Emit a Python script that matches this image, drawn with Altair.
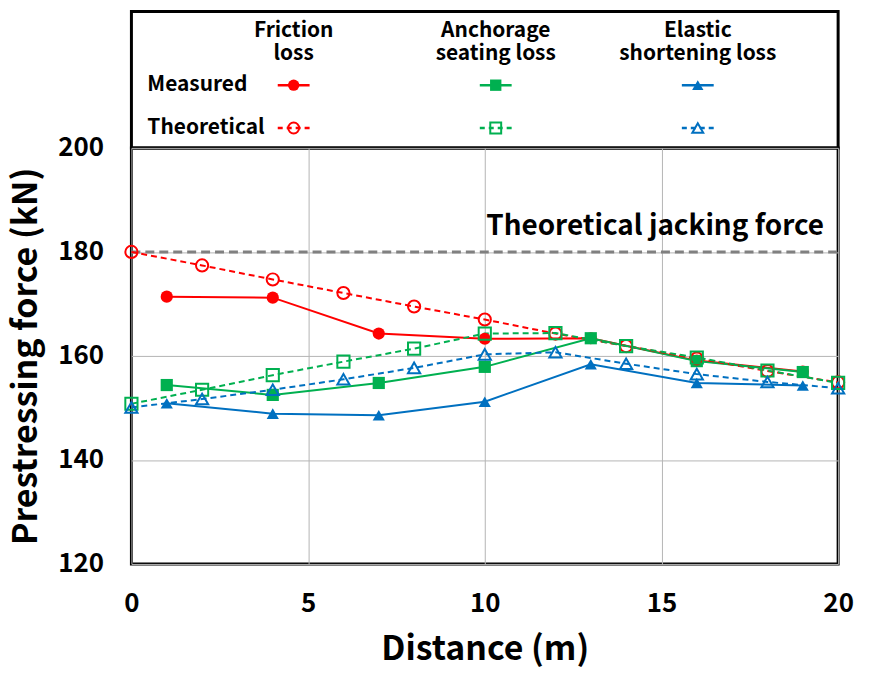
import altair as alt
import pandas as pd

# ---------------- data ----------------
loss_types = ["Friction loss", "Anchorage seating loss", "Elastic shortening loss"]
colors = ["#FF0000", "#00B050", "#0070C0"]
shapes_filled = ["circle", "square", "triangle-up"]

meas_dist = [1, 4, 7, 10, 13, 16, 19]
meas_friction = [171.4, 171.2, 164.3, 163.3, 163.4, 159.1, 157.0]
meas_anchorage = [154.4, 152.5, 154.8, 157.9, 163.4, 159.0, 156.9]
meas_elastic = [150.9, 148.9, 148.6, 151.2, 158.4, 154.8, 154.3]

theo_dist = [0, 2, 4, 6, 8, 10, 12, 14, 16, 18, 20]
theo_friction = [180.0, 177.4, 174.7, 172.1, 169.5, 167.0, 164.3, 161.9, 159.5, 157.1, 154.9]
theo_anchorage = [150.8, 153.5, 156.3, 158.9, 161.4, 164.3, 164.4, 161.9, 159.7, 157.2, 154.8]
theo_elastic = [150.1, 151.7, 153.5, 155.5, 157.7, 160.3, 160.7, 158.5, 156.5, 155.0, 153.8]

jacking_force = 180
jacking_label = "Theoretical jacking force"

x_ticks = [0, 5, 10, 15, 20]
y_ticks = [120, 140, 160, 180, 200]

FONT = "Noto Sans CJK KR"

rows = []
for lt, vals in zip(loss_types, [meas_friction, meas_anchorage, meas_elastic]):
    for d, v in zip(meas_dist, vals):
        rows.append({"loss": lt, "kind": "Measured", "distance": d, "force": v})
for lt, vals in zip(loss_types, [theo_friction, theo_anchorage, theo_elastic]):
    for d, v in zip(theo_dist, vals):
        rows.append({"loss": lt, "kind": "Theoretical", "distance": d, "force": v})
df = pd.DataFrame(rows)

color_scale = alt.Scale(domain=loss_types, range=colors)
shape_scale = alt.Scale(domain=loss_types, range=shapes_filled)
xs = alt.Scale(domain=[0, 20], nice=False, zero=False)
ys = alt.Scale(domain=[120, 200], nice=False, zero=False)

x_enc = alt.X("distance:Q", scale=xs,
              axis=alt.Axis(values=x_ticks, title="Distance (m)", format="d", labelFlush=False))
y_enc = alt.Y("force:Q", scale=ys,
              axis=alt.Axis(values=y_ticks, title="Prestressing force (kN)", format="d", labelFlush=False))

base = alt.Chart(df).encode(
    x=x_enc, y=y_enc,
    color=alt.Color("loss:N", scale=color_scale, legend=None),
    detail="loss:N",
)

lines_m = base.transform_filter(alt.datum.kind == "Measured").mark_line(strokeWidth=2)
lines_t = base.transform_filter(alt.datum.kind == "Theoretical").mark_line(strokeWidth=2, strokeDash=[6, 4])
pts_m = base.transform_filter(alt.datum.kind == "Measured").mark_point(
    filled=True, size=150, opacity=1).encode(shape=alt.Shape("loss:N", scale=shape_scale, legend=None))
pts_t = base.transform_filter(alt.datum.kind == "Theoretical").mark_point(
    filled=False, size=150, strokeWidth=2, opacity=1).encode(shape=alt.Shape("loss:N", scale=shape_scale, legend=None))

jack_df = pd.DataFrame({"force": [jacking_force], "label": [jacking_label], "x0": [0], "x1": [20], "xt": [19.6], "yt": [183.3]})
jack_rule = alt.Chart(jack_df).mark_rule(color="#808080", strokeWidth=3, strokeDash=[9, 5]).encode(
    x=alt.X("x0:Q", scale=xs), x2="x1:Q", y=alt.Y("force:Q", scale=ys))
jack_text = alt.Chart(jack_df).mark_text(align="right", baseline="alphabetic", font=FONT,
                                         fontWeight="bold", fontSize=28, color="black").encode(
    x=alt.X("xt:Q", scale=xs), y=alt.Y("yt:Q", scale=ys), text="label:N")

main = alt.layer(jack_rule, lines_m, lines_t, pts_m, pts_t, jack_text).properties(width=710, height=418)

# ---------------- legend panel ----------------
col_x = [163, 366, 569]
header_lines = ["Friction\nloss", "Anchorage\nseating loss", "Elastic\nshortening loss"]
row_names = ["Measured", "Theoretical"]
row_y = [74, 117]
header_y = 9
row_label_x = 16
seg_half = 16

hdr_df = pd.DataFrame({"x": col_x, "y": [header_y] * 3, "t": header_lines})
rowlab_df = pd.DataFrame({"x": [row_label_x] * 2, "y": row_y, "t": row_names})
sym = []
for lt, cx in zip(loss_types, col_x):
    for k, ry in zip(row_names, row_y):
        sym.append({"loss": lt, "kind": k, "x": cx, "xa": cx - seg_half, "xb": cx + seg_half, "y": ry})
sym_df = pd.DataFrame(sym)

lx = alt.Scale(domain=[0, 710], nice=False, zero=False)
ly = alt.Scale(domain=[137, 0], nice=False, zero=False)
noax = None

hdr_text = alt.Chart(hdr_df).mark_text(font=FONT, fontWeight="bold", fontSize=21, color="black",
                                       baseline="top", lineBreak="\n", lineHeight=23).encode(
    x=alt.X("x:Q", scale=lx, axis=noax), y=alt.Y("y:Q", scale=ly, axis=noax), text="t:N")
row_text = alt.Chart(rowlab_df).mark_text(font=FONT, fontWeight="bold", fontSize=21, color="black",
                                          align="left", baseline="middle").encode(
    x=alt.X("x:Q", scale=lx, axis=noax), y=alt.Y("y:Q", scale=ly, axis=noax), text="t:N")
symbase = alt.Chart(sym_df).encode(
    y=alt.Y("y:Q", scale=ly, axis=noax),
    color=alt.Color("loss:N", scale=color_scale, legend=None))
seg_m = symbase.transform_filter(alt.datum.kind == "Measured").mark_rule(strokeWidth=2.5).encode(
    x=alt.X("xa:Q", scale=lx, axis=noax), x2="xb:Q")
seg_t = symbase.transform_filter(alt.datum.kind == "Theoretical").mark_rule(strokeWidth=2.5, strokeDash=[5, 4]).encode(
    x=alt.X("xa:Q", scale=lx, axis=noax), x2="xb:Q")
sp_m = symbase.transform_filter(alt.datum.kind == "Measured").mark_point(filled=True, size=130, opacity=1).encode(
    x=alt.X("x:Q", scale=lx, axis=noax), shape=alt.Shape("loss:N", scale=shape_scale, legend=None))
sp_t = symbase.transform_filter(alt.datum.kind == "Theoretical").mark_point(filled=False, size=120, strokeWidth=2, opacity=1).encode(
    x=alt.X("x:Q", scale=lx, axis=noax), shape=alt.Shape("loss:N", scale=shape_scale, legend=None))

legend_panel = alt.layer(hdr_text, row_text, seg_m, seg_t, sp_m, sp_t).properties(width=710, height=137)

chart = alt.vconcat(legend_panel, main, spacing=0, bounds="flush").resolve_scale(
    x="independent", y="independent"
).properties(
    padding={"left": 0, "top": 0, "right": 10, "bottom": 0},
).configure_view(
    stroke="black", strokeWidth=3
).configure_axis(
    grid=True, gridColor="#B4B4B4", gridWidth=1, domain=False, ticks=False,
    labelFont=FONT, labelFontWeight="bold", labelFontSize=26, labelColor="black",
    titleFont=FONT, titleFontWeight="bold", titleFontSize=34, titleColor="black",
).configure_axisX(labelPadding=27, titlePadding=16).configure_axisY(labelPadding=28, titlePadding=14)

chart.save("out.html", embed_options={"renderer": "svg", "actions": False})
